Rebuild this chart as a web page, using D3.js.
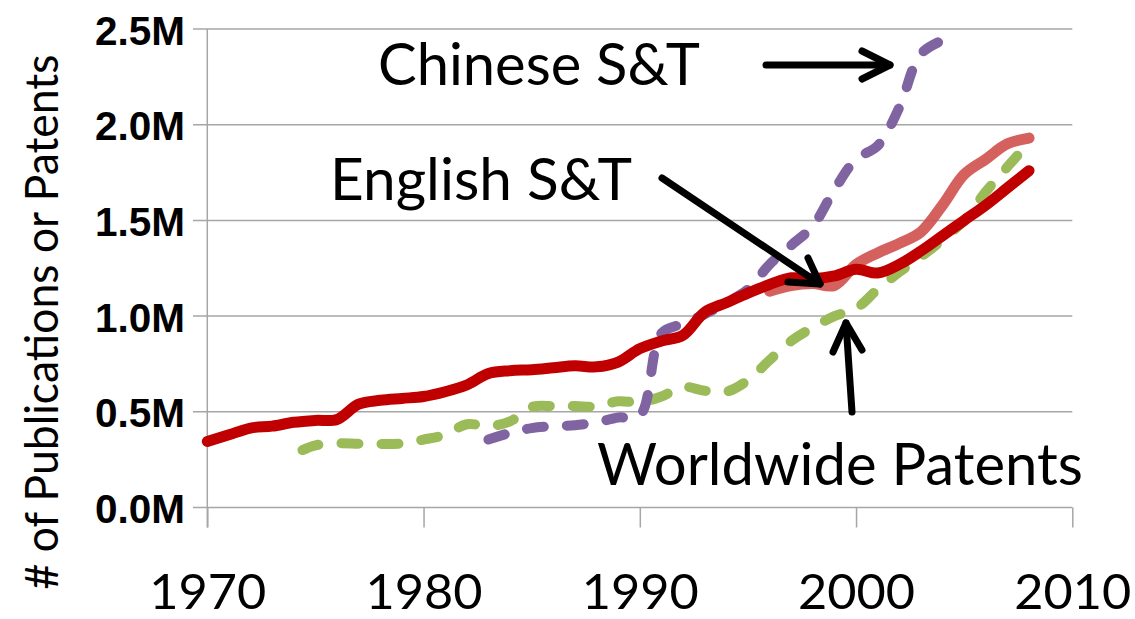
<!DOCTYPE html>
<html>
<head>
<meta charset="utf-8">
<script src="https://cdn.jsdelivr.net/npm/d3@7/dist/d3.min.js"></script>
<style>
  html, body { margin: 0; padding: 0; background: #fff; }
  svg { display: block; }
</style>
</head>
<body>
<svg id="chart" width="1135" height="619"></svg>
<script>
// ---------------- data (values in millions) ----------------
const yTickValues = [0, 0.5, 1.0, 1.5, 2.0, 2.5];
const yTickLabels = ["0.0M", "0.5M", "1.0M", "1.5M", "2.0M", "2.5M"];
const xTickValues = [1970, 1980, 1990, 2000, 2010];
const xTickLabels = ["1970", "1980", "1990", "2000", "2010"];

const englishYears = [1970,1971,1972,1973,1974,1975,1976,1977,1978,1979,1980,1981,1982,1983,1984,1985,1986,1987,1988,1989,1990,1991,1992,1993,1994,1995,1996,1997,1998,1999,2000,2001,2002,2003,2004,2005,2006,2007,2008];
const englishValues = [0.345,0.38,0.415,0.425,0.445,0.455,0.46,0.54,0.56,0.57,0.58,0.605,0.64,0.70,0.715,0.72,0.73,0.74,0.735,0.76,0.83,0.87,0.90,1.02,1.07,1.12,1.165,1.20,1.195,1.21,1.245,1.225,1.27,1.34,1.42,1.50,1.58,1.67,1.76];

const english2Years = [1996,1997,1998,1999,2000,2001,2002,2003,2004,2005,2006,2007,2008];
const english2Values = [1.13,1.16,1.17,1.16,1.27,1.33,1.38,1.44,1.58,1.74,1.82,1.90,1.93];

const chineseYears = [1983,1984,1985,1986,1987,1988,1989,1990,1991,1992,1993,1994,1995,1996,1997,1998,1999,2000,2001,2002,2003,2004.2];
const chineseValues = [0.355,0.39,0.415,0.425,0.43,0.445,0.47,0.48,0.91,0.96,1.01,1.07,1.14,1.27,1.37,1.47,1.66,1.82,1.89,2.09,2.37,2.45];

const patentYears = [1974.4,1975,1976,1977,1978,1979,1980,1981,1982,1983,1984,1985,1986,1987,1988,1989,1990,1991,1992,1993,1994,1995,1996,1997,1998,1999,2000,2001,2002,2003,2004,2005,2006,2007,2008.1];
const patentValues = [0.30,0.325,0.335,0.333,0.332,0.335,0.355,0.38,0.435,0.425,0.45,0.525,0.53,0.53,0.528,0.555,0.55,0.58,0.63,0.61,0.605,0.665,0.77,0.87,0.94,1.00,1.04,1.14,1.23,1.31,1.40,1.50,1.65,1.78,1.92];

const annotations = ["Chinese S&T", "English S&T", "Worldwide Patents"];
const yAxisTitle = "# of Publications or Patents";

// ---------------- layout ----------------
const svg = d3.select("#chart");
const x = d3.scaleLinear().domain([1970, 2010]).range([207.3, 1072.3]);
const y = d3.scaleLinear().domain([0, 2.5]).range([507.5, 29]);

const gridColor = "#a6a6a6";

// gridlines
svg.append("g").selectAll("line").data(yTickValues).join("line")
  .attr("x1", 193).attr("x2", x(2010))
  .attr("y1", d => y(d)).attr("y2", d => y(d))
  .attr("stroke", gridColor).attr("stroke-width", 1.5);

// y axis line
svg.append("line").attr("x1", x(1970)).attr("x2", x(1970))
  .attr("y1", y(2.5)).attr("y2", y(0) + 20)
  .attr("stroke", gridColor).attr("stroke-width", 1.5);

// x axis ticks
const xAxis = d3.axisBottom(x).tickValues(xTickValues).tickSize(20).tickFormat((d, i) => xTickLabels[i]);
const gx = svg.append("g").attr("transform", `translate(0,${y(0)})`).call(xAxis);
gx.select(".domain").remove();
gx.selectAll(".tick line").attr("stroke", gridColor).attr("stroke-width", 1.5);
gx.selectAll(".tick text")
  .attr("y", 101).attr("dy", null)
  .attr("font-family", "Lato, 'Open Sans', sans-serif")
  .attr("font-size", 49).attr("fill", "#000")
  .attr("textLength", 117).attr("lengthAdjust", "spacingAndGlyphs");

// y axis labels
const yAxis = d3.axisLeft(y).tickValues(yTickValues).tickSize(0).tickPadding(0).tickFormat((d, i) => yTickLabels[i]);
const gy = svg.append("g").attr("transform", `translate(185,0)`).call(yAxis);
gy.select(".domain").remove();
gy.selectAll(".tick text")
  .attr("x", 0).attr("dy", "15")
  .attr("font-family", "'Liberation Sans', Arial, sans-serif")
  .attr("font-weight", "bold")
  .attr("font-size", 41).attr("fill", "#000")
  .attr("textLength", 90).attr("lengthAdjust", "spacingAndGlyphs");

// y axis title
svg.append("text")
  .attr("transform", "translate(58,322) rotate(-90)")
  .attr("text-anchor", "middle")
  .attr("font-family", "Lato, 'Open Sans', sans-serif")
  .attr("font-size", 46)
  .attr("textLength", 535).attr("lengthAdjust", "spacingAndGlyphs")
  .attr("fill", "#000")
  .text(yAxisTitle);

// ---------------- series ----------------
const line = d3.line().x(d => x(d[0])).y(d => y(d[1])).curve(d3.curveCatmullRom.alpha(0.5));
const zip = (a, b) => a.map((v, i) => [v, b[i]]);

svg.append("path").datum(zip(patentYears, patentValues))
  .attr("d", line).attr("fill", "none")
  .attr("stroke", "#9bbb59").attr("stroke-width", 10)
  .attr("stroke-linecap", "round").attr("stroke-dasharray", "17 23");

svg.append("path").datum(zip(chineseYears, chineseValues))
  .attr("d", line).attr("fill", "none")
  .attr("stroke", "#8064a2").attr("stroke-width", 10)
  .attr("stroke-linecap", "round").attr("stroke-dasharray", "17 23");

svg.append("path").datum(zip(english2Years, english2Values))
  .attr("d", line).attr("fill", "none")
  .attr("stroke", "#d0504d").attr("stroke-opacity", 0.9).attr("stroke-width", 11)
  .attr("stroke-linecap", "round");

svg.append("path").datum(zip(englishYears, englishValues))
  .attr("d", line).attr("fill", "none")
  .attr("stroke", "#c00000").attr("stroke-width", 11)
  .attr("stroke-linecap", "round");

// ---------------- annotations ----------------
const annFont = "Lato, 'Open Sans', sans-serif";
const annPos = [
  {x: 378, y: 85, len: 322},
  {x: 330, y: 200, len: 302},
  {x: 597, y: 485, len: 486}
];
svg.append("g").selectAll("text").data(annotations).join("text")
  .attr("x", (d, i) => annPos[i].x).attr("y", (d, i) => annPos[i].y)
  .attr("font-family", annFont).attr("font-size", 58)
  .attr("textLength", (d, i) => annPos[i].len).attr("lengthAdjust", "spacingAndGlyphs")
  .attr("fill", "#000")
  .text(d => d);

// arrows
function arrow(x1, y1, x2, y2, a1, a2) {
  const g = svg.append("g").attr("stroke", "#000").attr("stroke-width", 7)
    .attr("stroke-linecap", "round").attr("stroke-linejoin", "round").attr("fill", "none");
  g.append("line").attr("x1", x1).attr("y1", y1).attr("x2", x2).attr("y2", y2);
  g.append("path").attr("d", `M${a1[0]},${a1[1]}L${x2},${y2}L${a2[0]},${a2[1]}`);
}
arrow(766, 65, 890, 65, [862, 51], [862, 79]);
arrow(662, 178, 820, 284, [808, 258], [788, 282]);
arrow(852, 412, 846, 323, [833, 352], [862, 350]);
</script>
</body>
</html>
